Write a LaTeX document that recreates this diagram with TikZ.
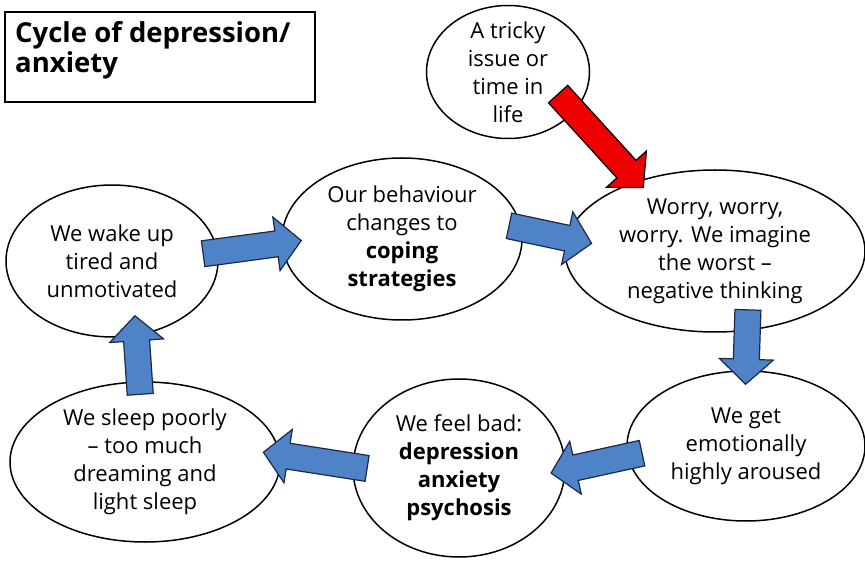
\documentclass[tikz,border=0pt]{standalone}
\usepackage{fontspec}
\setmainfont{Open Sans}
\usetikzlibrary{shapes.geometric}
\usetikzlibrary{calc}
\definecolor{arrowblue}{RGB}{79,131,200}
\definecolor{arrowline}{RGB}{28,40,70}
\definecolor{arrowred}{RGB}{238,0,0}
\tikzset{
  bubble/.style={draw, ellipse, line width=1.5pt, fill=white, inner sep=-20pt,
    align=center, font=\fontsize{22}{28}\selectfont},
  titlebox/.style={draw, rectangle, line width=2.2pt, inner sep=0pt,
    minimum width=310pt, minimum height=90pt},
  titletext/.style={inner sep=0pt, align=left, font=\bfseries\fontsize{27.5}{30}\selectfont},
  fat/.style 2 args={line width=1.2pt, draw=arrowline, fill=arrowblue, line join=miter,
    to path={
      ($(\tikztostart)!-#1!(\tikztotarget)!13pt!90:(\tikztotarget)$)
      -- ($(\tikztotarget)!-#2!(\tikztostart)!25pt!(\tikztostart)!13pt!-90:(\tikztostart)$)
      -- ($(\tikztotarget)!-#2!(\tikztostart)!25pt!(\tikztostart)!27pt!-90:(\tikztostart)$)
      -- ($(\tikztotarget)!-#2!(\tikztostart)$)
      -- ($(\tikztotarget)!-#2!(\tikztostart)!25pt!(\tikztostart)!27pt!90:(\tikztostart)$)
      -- ($(\tikztotarget)!-#2!(\tikztostart)!25pt!(\tikztostart)!13pt!90:(\tikztostart)$)
      -- ($(\tikztostart)!-#1!(\tikztotarget)!13pt!-90:(\tikztotarget)$)
      -- cycle}}
}

\begin{document}
\begin{tikzpicture}[x=1pt,y=-1pt]
\useasboundingbox (0,0) rectangle (865,561);

\node[titlebox] (title) at (160,57) {};
\node[titletext, anchor=north west] (titletxt) at (15,21) {Cycle of depression/\\anxiety};

\node[bubble, minimum width=163pt, minimum height=133pt] (tricky) at (508,72) {A tricky\\issue or\\time in\\life};
\node[bubble, minimum width=240pt, minimum height=162pt] (behav) at (402,239) {Our behaviour\\changes to\\\textbf{coping}\\\textbf{strategies}};
\node[bubble, minimum width=212pt, minimum height=152pt] (wake) at (112,261) {We wake up\\tired and\\unmotivated};
\node[bubble, minimum width=300pt, minimum height=162pt] (worry) at (715,251) {Worry, worry,\\worry. We imagine\\the worst –\\negative thinking};
\node[bubble, minimum width=238pt, minimum height=150pt] (aroused) at (746,446) {We get\\emotionally\\highly aroused};
\node[bubble, minimum width=212pt, minimum height=178pt] (feel) at (459,468) {We feel bad:\\\textbf{depression}\\\textbf{anxiety}\\\textbf{psychosis}};
\node[bubble, minimum width=270pt, minimum height=160pt] (sleep) at (145,462) {We sleep poorly\\– too much\\dreaming and\\light sleep};

\draw[fat={24pt}{9pt}, fill=arrowred, draw=black] (tricky.329) to (worry.138);
\draw[fat={15pt}{20pt}] (wake.5) to (behav.182);
\draw[fat={13pt}{26pt}] (behav.5) to (worry.175);
\draw[fat={21pt}{14pt}] (worry.292) to (aroused.90);
\draw[fat={15pt}{15pt}] (aroused.185) to (feel.359);
\draw[fat={15pt}{17pt}] (feel.179) to (sleep.3);
\draw[fat={13pt}{20pt}] (sleep.94) to (wake.288);
\end{tikzpicture}
\end{document}
